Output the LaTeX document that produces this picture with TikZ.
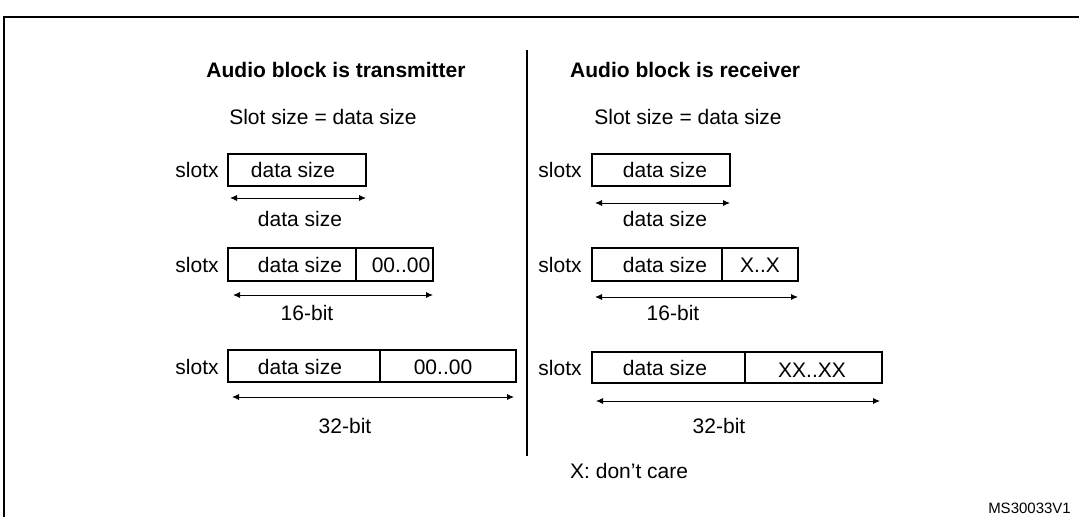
\documentclass[tikz,border=0pt]{standalone}
\usepackage{fontspec}
\setmainfont{Liberation Sans}
\usetikzlibrary{arrows.meta}
\begin{document}
\begin{tikzpicture}[x=1pt,y=-1pt,
  txt/.style={inner sep=0pt,font=\fontsize{21}{24}\selectfont},
  ttl/.style={inner sep=0pt,font=\fontsize{21}{24}\selectfont\bfseries},
  box/.style={draw,line width=1.3pt},
  dim/.style={{Latex[length=7pt,width=6pt]}-{Latex[length=7pt,width=6pt]},line width=0.9pt}]
\useasboundingbox (0,0) rectangle (1079,517);
\coordinate (ftl) at (4,17); \coordinate (ftr) at (1079,17); \coordinate (fbl) at (4,517);
\draw[line width=1.2pt] (fbl) -- (ftl) -- (ftr);
\coordinate (d1) at (527,50); \coordinate (d2) at (527,456);
\draw[line width=1.2pt] (d1) -- (d2);
\node[ttl] (t1) at (336,70) {Audio block is transmitter};
\node[ttl,anchor=west] (t2) at (570,70) {Audio block is receiver};
\node[txt] (s1) at (323,117) {Slot size = data size};
\node[txt] (s2) at (688,117) {Slot size = data size};
% left
\node[txt] (l1) at (197,170) {slotx};
\draw[box] (228,154) rectangle (366,186);
\node[txt] at (293,170) {data size};
\coordinate (a1) at (230,198); \coordinate (b1) at (366,198);
\draw[dim] (a1) -- (b1);
\node[txt] (dl1) at (300,219) {data size};
\node[txt] (l2) at (197,265) {slotx};
\draw[box] (228,248) rectangle (433,281); \draw[box] (356,248) -- (356,281);
\node[txt] at (300,265) {data size};
\node[txt] at (401,265) {00..00};
\coordinate (a2) at (233,295); \coordinate (b2) at (433,295);
\draw[dim] (a2) -- (b2);
\node[txt] (dl2) at (307,313) {16-bit};
\node[txt] (l3) at (197,367) {slotx};
\draw[box] (228,350) rectangle (516,382); \draw[box] (380,350) -- (380,382);
\node[txt] at (300,367) {data size};
\node[txt] at (443,367) {00..00};
\coordinate (a3) at (232,397); \coordinate (b3) at (514,397);
\draw[dim] (a3) -- (b3);
\node[txt] (dl3) at (345,426) {32-bit};
% right
\node[txt] (r1) at (560,170) {slotx};
\draw[box] (592,154) rectangle (730,186);
\node[txt] at (665,170) {data size};
\coordinate (c1) at (595,203); \coordinate (e1) at (730,203);
\draw[dim] (c1) -- (e1);
\node[txt] (dr1) at (665,219) {data size};
\node[txt] (r2) at (560,265) {slotx};
\draw[box] (592,248) rectangle (798,281); \draw[box] (722,248) -- (722,281);
\node[txt] at (665,265) {data size};
\node[txt] at (760,265) {X..X};
\coordinate (c2) at (595,297); \coordinate (e2) at (798,297);
\draw[dim] (c2) -- (e2);
\node[txt] (dr2) at (673,313) {16-bit};
\node[txt] (r3) at (560,368) {slotx};
\draw[box] (592,352) rectangle (882,383); \draw[box] (745,352) -- (745,383);
\node[txt] at (665,368) {data size};
\node[txt] at (812,370) {XX..XX};
\coordinate (c3) at (596,401); \coordinate (e3) at (880,401);
\draw[dim] (c3) -- (e3);
\node[txt] (dr3) at (719,426) {32-bit};
\node[txt,anchor=west] (x) at (570,471) {X: don’t care};
\node[inner sep=0pt,anchor=east,font=\fontsize{15}{17}\selectfont] (ms) at (1071,508) {MS30033V1};
\end{tikzpicture}
\end{document}
